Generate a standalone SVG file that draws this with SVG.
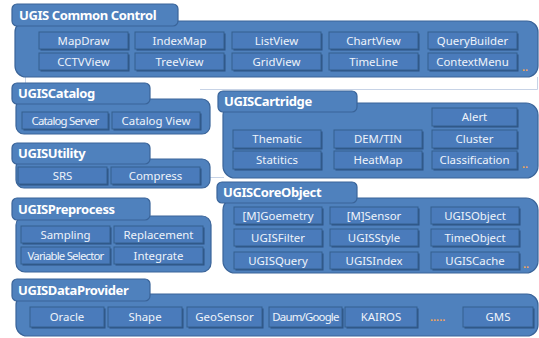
<svg xmlns="http://www.w3.org/2000/svg" width="539" height="338" viewBox="0 0 539 338">
  <style>
    .body { fill: #4f81bd; stroke: #3a6499; stroke-width: 1.2; }
    .tab { fill: #4f81bd; stroke: #3a6499; stroke-width: 1.2; }
    .tabtext { font-family: "Noto Sans", "Open Sans", sans-serif; font-weight: bold; font-size: 13px; fill: #ffffff; letter-spacing: -0.4px; }
    .btn-sh { fill: #2d5283; }
    .btn { fill: #4a7bbb; stroke: #35608f; stroke-width: 1; }
    .label { font-family: "Noto Sans", "Open Sans", sans-serif; font-size: 11.4px; fill: #eef3fa; text-anchor: middle; }
    .narrow { letter-spacing: -0.8px; }
    .more { font-family: "Liberation Sans", sans-serif; font-size: 11px; font-weight: bold; fill: #f0a45c; }
    .rule { stroke: #c7d3e6; stroke-width: 1; fill: none; }
  </style>

  <rect width="539" height="338" fill="#ffffff"/>

  <!-- thin guide lines behind the packages -->
  <g id="connectors">
    <path class="rule" d="M25.5 77 V84"/>
    <path class="rule" d="M537.5 77 V89.5 H200"/>
    <path class="rule" d="M210 177.5 H224"/>
  </g>

  <!-- UGIS Common Control -->
  <g id="common-control">
    <rect class="body" x="15" y="21" width="523" height="56" rx="11"/>
    <rect class="tab" x="12" y="4" width="166" height="22" rx="5"/>
    <text class="tabtext" x="19" y="20">UGIS Common Control</text>
    <g>
      <rect class="btn-sh" x="40.5" y="33.5" width="89" height="17"/><rect class="btn" x="39" y="32" width="89" height="17"/><text class="label" x="83.5" y="44.5">MapDraw</text>
      <rect class="btn-sh" x="136.5" y="33.5" width="89" height="17"/><rect class="btn" x="135" y="32" width="89" height="17"/><text class="label" x="179.5" y="44.5">IndexMap</text>
      <rect class="btn-sh" x="233.5" y="33.5" width="89" height="17"/><rect class="btn" x="232" y="32" width="89" height="17"/><text class="label" x="276.5" y="44.5">ListView</text>
      <rect class="btn-sh" x="330.5" y="33.5" width="89" height="17"/><rect class="btn" x="329" y="32" width="89" height="17"/><text class="label" x="373.5" y="44.5">ChartView</text>
      <rect class="btn-sh" x="429.5" y="33.5" width="89" height="17"/><rect class="btn" x="428" y="32" width="89" height="17"/><text class="label" x="472.5" y="44.5">QueryBuilder</text>
      <rect class="btn-sh" x="40.5" y="54.5" width="89" height="17"/><rect class="btn" x="39" y="53" width="89" height="17"/><text class="label" x="83.5" y="65.5">CCTVView</text>
      <rect class="btn-sh" x="136.5" y="54.5" width="89" height="17"/><rect class="btn" x="135" y="53" width="89" height="17"/><text class="label" x="179.5" y="65.5">TreeView</text>
      <rect class="btn-sh" x="233.5" y="54.5" width="89" height="17"/><rect class="btn" x="232" y="53" width="89" height="17"/><text class="label" x="276.5" y="65.5">GridView</text>
      <rect class="btn-sh" x="330.5" y="54.5" width="89" height="17"/><rect class="btn" x="329" y="53" width="89" height="17"/><text class="label" x="373.5" y="65.5">TimeLine</text>
      <rect class="btn-sh" x="429.5" y="54.5" width="89" height="17"/><rect class="btn" x="428" y="53" width="89" height="17"/><text class="label" x="472.5" y="65.5">ContextMenu</text>
    </g>
    <text class="more" x="522" y="71">..</text>
  </g>

  <!-- UGISCatalog -->
  <g id="catalog">
    <rect class="body" x="16" y="99" width="194" height="35" rx="8"/>
    <rect class="tab" x="12" y="83" width="138" height="21" rx="5"/>
    <text class="tabtext" x="18" y="98">UGISCatalog</text>
    <rect class="btn-sh" x="23.5" y="113.5" width="86" height="17"/><rect class="btn" x="22" y="112" width="86" height="17"/><text class="label narrow" x="65" y="124.5">Catalog Server</text>
    <rect class="btn-sh" x="113.5" y="113.5" width="88" height="17"/><rect class="btn" x="112" y="112" width="88" height="17"/><text class="label" x="156" y="124.5">Catalog View</text>
  </g>

  <!-- UGISUtility -->
  <g id="utility">
    <rect class="body" x="16" y="159" width="194" height="29" rx="8"/>
    <rect class="tab" x="12" y="143" width="138" height="21" rx="5"/>
    <text class="tabtext" x="18" y="158">UGISUtility</text>
    <rect class="btn-sh" x="19.5" y="168.5" width="89" height="17"/><rect class="btn" x="18" y="167" width="89" height="17"/><text class="label" x="62.5" y="179.5">SRS</text>
    <rect class="btn-sh" x="112.5" y="168.5" width="89" height="17"/><rect class="btn" x="111" y="167" width="89" height="17"/><text class="label" x="155.5" y="179.5">Compress</text>
  </g>

  <!-- UGISPreprocess -->
  <g id="preprocess">
    <rect class="body" x="16" y="216" width="195" height="56" rx="9"/>
    <rect class="tab" x="12" y="198" width="138" height="22" rx="5"/>
    <text class="tabtext" x="18" y="214">UGISPreprocess</text>
    <rect class="btn-sh" x="22.5" y="227.5" width="89" height="17"/><rect class="btn" x="21" y="226" width="89" height="17"/><text class="label" x="65.5" y="238.5">Sampling</text>
    <rect class="btn-sh" x="115.5" y="227.5" width="89" height="17"/><rect class="btn" x="114" y="226" width="89" height="17"/><text class="label" x="158.5" y="238.5">Replacement</text>
    <rect class="btn-sh" x="22.5" y="248.5" width="89" height="17"/><rect class="btn" x="21" y="247" width="89" height="17"/><text class="label narrow" x="65.5" y="259.5">Variable Selector</text>
    <rect class="btn-sh" x="115.5" y="248.5" width="89" height="17"/><rect class="btn" x="114" y="247" width="89" height="17"/><text class="label" x="158.5" y="259.5">Integrate</text>
  </g>

  <!-- UGISCartridge -->
  <g id="cartridge">
    <rect class="body" x="223" y="103" width="315" height="75" rx="12"/>
    <rect class="tab" x="218" y="91" width="139" height="21" rx="5"/>
    <text class="tabtext" x="224" y="106">UGISCartridge</text>
    <rect class="btn-sh" x="433.5" y="109.5" width="85" height="18"/><rect class="btn" x="432" y="108" width="85" height="18"/><text class="label" x="474.5" y="121">Alert</text>
    <rect class="btn-sh" x="234.5" y="131.5" width="88" height="18"/><rect class="btn" x="233" y="130" width="88" height="18"/><text class="label" x="277" y="143">Thematic</text>
    <rect class="btn-sh" x="335.5" y="131.5" width="88" height="18"/><rect class="btn" x="334" y="130" width="88" height="18"/><text class="label" x="378" y="143">DEM/TIN</text>
    <rect class="btn-sh" x="433.5" y="131.5" width="85" height="18"/><rect class="btn" x="432" y="130" width="85" height="18"/><text class="label" x="474.5" y="143">Cluster</text>
    <rect class="btn-sh" x="234.5" y="152.5" width="88" height="18"/><rect class="btn" x="233" y="151" width="88" height="18"/><text class="label" x="277" y="164">Statitics</text>
    <rect class="btn-sh" x="335.5" y="152.5" width="88" height="18"/><rect class="btn" x="334" y="151" width="88" height="18"/><text class="label" x="378" y="164">HeatMap</text>
    <rect class="btn-sh" x="433.5" y="152.5" width="85" height="18"/><rect class="btn" x="432" y="151" width="85" height="18"/><text class="label" x="474.5" y="164">Classification</text>
    <text class="more" x="522" y="168">..</text>
  </g>

  <!-- UGISCoreObject -->
  <g id="core-object">
    <rect class="body" x="223" y="198" width="315" height="75" rx="12"/>
    <rect class="tab" x="217" y="182" width="140" height="21" rx="5"/>
    <text class="tabtext" x="223" y="197">UGISCoreObject</text>
    <rect class="btn-sh" x="235.5" y="208.5" width="88" height="17"/><rect class="btn" x="234" y="207" width="88" height="17"/><text class="label" x="278" y="219.5">[M]Goemetry</text>
    <rect class="btn-sh" x="331.5" y="208.5" width="88" height="17"/><rect class="btn" x="330" y="207" width="88" height="17"/><text class="label" x="374" y="219.5">[M]Sensor</text>
    <rect class="btn-sh" x="432.5" y="208.5" width="88" height="17"/><rect class="btn" x="431" y="207" width="88" height="17"/><text class="label" x="475" y="219.5">UGISObject</text>
    <rect class="btn-sh" x="235.5" y="230.5" width="88" height="17"/><rect class="btn" x="234" y="229" width="88" height="17"/><text class="label" x="278" y="241.5">UGISFilter</text>
    <rect class="btn-sh" x="331.5" y="230.5" width="88" height="17"/><rect class="btn" x="330" y="229" width="88" height="17"/><text class="label" x="374" y="241.5">UGISStyle</text>
    <rect class="btn-sh" x="432.5" y="230.5" width="88" height="17"/><rect class="btn" x="431" y="229" width="88" height="17"/><text class="label" x="475" y="241.5">TimeObject</text>
    <rect class="btn-sh" x="235.5" y="253.5" width="88" height="17"/><rect class="btn" x="234" y="252" width="88" height="17"/><text class="label" x="278" y="264.5">UGISQuery</text>
    <rect class="btn-sh" x="331.5" y="253.5" width="88" height="17"/><rect class="btn" x="330" y="252" width="88" height="17"/><text class="label" x="374" y="264.5">UGISIndex</text>
    <rect class="btn-sh" x="432.5" y="253.5" width="88" height="17"/><rect class="btn" x="431" y="252" width="88" height="17"/><text class="label" x="475" y="264.5">UGISCache</text>
    <text class="more" x="523" y="268">..</text>
  </g>

  <!-- UGISDataProvider -->
  <g id="data-provider">
    <rect class="body" x="16" y="294" width="522" height="42" rx="11"/>
    <rect class="tab" x="12" y="279" width="138" height="22" rx="5"/>
    <text class="tabtext" x="18" y="295">UGISDataProvider</text>
    <rect class="btn-sh" x="31.5" y="308.5" width="74" height="20"/><rect class="btn" x="30" y="307" width="74" height="20"/><text class="label" x="67" y="321">Oracle</text>
    <rect class="btn-sh" x="109.5" y="308.5" width="74" height="20"/><rect class="btn" x="108" y="307" width="74" height="20"/><text class="label" x="145" y="321">Shape</text>
    <rect class="btn-sh" x="188.5" y="308.5" width="75" height="20"/><rect class="btn" x="187" y="307" width="75" height="20"/><text class="label" x="224.5" y="321">GeoSensor</text>
    <rect class="btn-sh" x="270.5" y="308.5" width="73" height="20"/><rect class="btn" x="269" y="307" width="73" height="20"/><text class="label narrow" x="305.5" y="321">Daum/Google</text>
    <rect class="btn-sh" x="346.5" y="308.5" width="72" height="20"/><rect class="btn" x="345" y="307" width="72" height="20"/><text class="label" x="381" y="321">KAIROS</text>
    <text class="more" x="430" y="321">.....</text>
    <rect class="btn-sh" x="464.5" y="308.5" width="70" height="20"/><rect class="btn" x="463" y="307" width="70" height="20"/><text class="label" x="498" y="321">GMS</text>
  </g>
</svg>
